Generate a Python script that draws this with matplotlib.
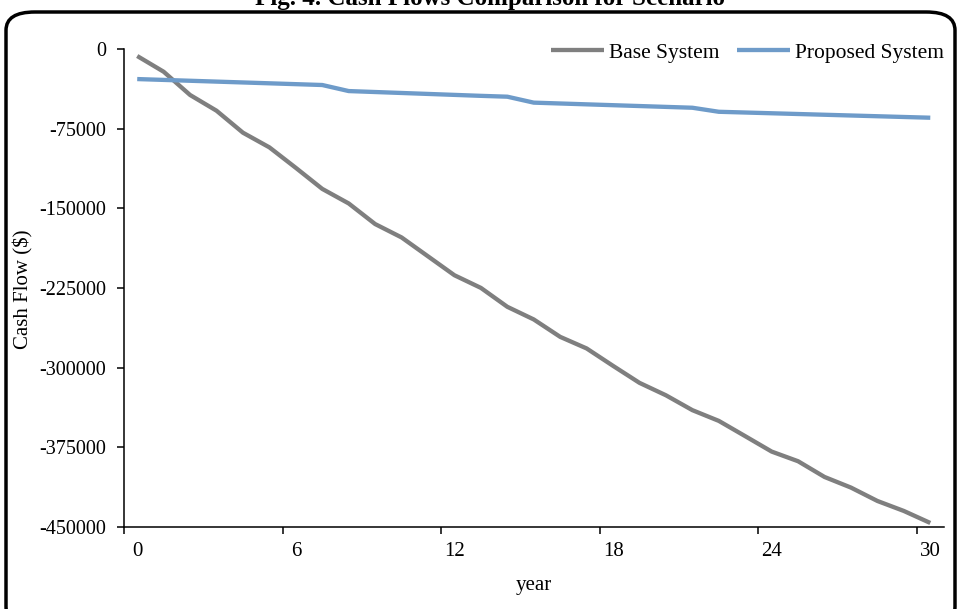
import matplotlib.pyplot as plt
from matplotlib.patches import FancyBboxPatch

plt.rcParams[ 'font.family' ] = [ 'Liberation Serif', 'DejaVu Serif' ]

years = list( range( 0, 31 ) )

base_system = [
    -6600, -21400, -43300, -58100, -78800, -92600, -111900, -131700,
    -145400, -164800, -177400, -195200, -213000, -224900, -242700,
    -254600, -271000, -281900, -298300, -314300, -326000, -340000,
    -350100, -364500, -379000, -388100, -402900, -412900, -425500,
    -434900, -446200
]

proposed_system = [
    -28300, -29100, -29900, -30700, -31500, -32300, -33100, -33900,
    -39600, -40500, -41400, -42300, -43200, -44100, -44900,
    -50500, -51300, -52100, -52900, -53700, -54500, -55300,
    -59100, -59800, -60500, -61200, -61900, -62600, -63300,
    -64000, -64700
]

y_ticks = [ 0, -75000, -150000, -225000, -300000, -375000, -450000 ]
x_labels = [ 0, 6, 12, 18, 24, 30 ]

fig = plt.figure( figsize = ( 9.6, 6.09 ), dpi = 100 )
ax = fig.add_axes( [ 124 / 960, 1 - 527 / 609, ( 943.5 - 124 ) / 960, ( 527 - 49 ) / 609 ] )

ax.plot( years, base_system, color = '#7F7F7F', lw = 3.1, label = 'Base System', solid_capstyle = 'butt' )
ax.plot( years, proposed_system, color = '#6E9BC9', lw = 3.1, label = 'Proposed System', solid_capstyle = 'butt' )

ax.set_xlim( -0.5, 30.5 )
ax.set_ylim( -450000, 0 )

# category style axis: ticks between categories, labels on the categories
ax.set_xticks( [ x - 0.5 for x in x_labels ] )
ax.set_xticklabels( [] )
ax.set_xticks( x_labels, minor = True )
ax.set_xticklabels( [ str( x ) for x in x_labels ], minor = True )
ax.tick_params( axis = 'x', which = 'major', direction = 'out', length = 5, width = 1.1 )
ax.tick_params( axis = 'x', which = 'minor', length = 0, pad = 11, labelsize = 15 )

ax.set_yticks( y_ticks )
ax.set_yticklabels( [ str( y ) for y in y_ticks ] )
ax.tick_params( axis = 'y', direction = 'out', length = 5, width = 1.1, pad = 8, labelsize = 14.5 )

for side in [ 'top', 'right' ]:
    ax.spines[ side ].set_visible( False )
for side in [ 'left', 'bottom' ]:
    ax.spines[ side ].set_linewidth( 1.1 )

ax.set_xlabel( 'year', fontsize = 15 )
ax.xaxis.set_label_coords( ( 534 - 124 ) / 819.5, -( 576 - 527 ) / 478 )
ax.set_ylabel( 'Cash Flow ($)', fontsize = 15 )
ax.yaxis.set_label_coords( ( 33 - 124 ) / 819.5, ( 527 - 289 ) / 478 )

ax.legend( loc = 'center right', bbox_to_anchor = ( 944 / 960, 1 - 53 / 609 ),
           bbox_transform = fig.transFigure, ncol = 2, frameon = False,
           fontsize = 15.5, handlelength = 2.45, handletextpad = 0.25,
           columnspacing = 0.8, borderpad = 0, borderaxespad = 0 )

# title is clipped at the top of the picture, as in the source
fig.text( 490 / 960, 1 - 5 / 609, 'Fig. 4. Cash Flows Comparison for Scenario',
          ha = 'center', va = 'baseline', fontsize = 18, fontweight = 'bold' )

border = FancyBboxPatch( ( 6 / 960, -16 / 609 ), 949 / 960, ( 609 - 12 + 16 ) / 609,
                         boxstyle = 'round,pad=0,rounding_size=0.03',
                         transform = fig.transFigure, fill = False,
                         edgecolor = 'black', linewidth = 2.5, clip_on = False )
fig.patches.append( border )

fig.savefig( 'out.png', dpi = 100 )
